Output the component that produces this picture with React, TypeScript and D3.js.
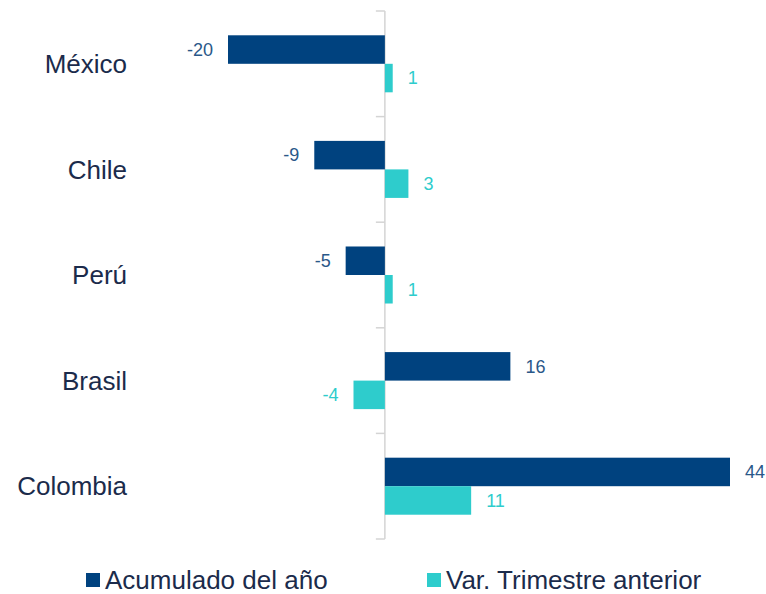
import React from "react";
import * as d3 from "d3";

const categories = ["México", "Chile", "Perú", "Brasil", "Colombia"];
const seriesNames = ["Acumulado del año", "Var. Trimestre anterior"];
const acumulado = [-20, -9, -5, 16, 44];
const trimestre = [1, 3, 1, -4, 11];

const colors = ["#00427f", "#2ecccc"];
const labelColors = ["#2a5889", "#2ecccc"];

export default function App() {
  const W = 766, H = 594;
  const x = d3.scaleLinear().domain([-20, 44]).range([228, 730]);
  const y0 = d3.scaleBand<string>().domain(categories).range([11, 539]).paddingInner(0.46).paddingOuter(0.23);
  const y1 = d3.scaleBand<string>().domain(seriesNames).range([0, y0.bandwidth()]);
  const series = [acumulado, trimestre];
  const step = y0.step();
  const boundaries = d3.range(categories.length + 1).map((i) => 11 + i * step);
  const font = "'Liberation Sans', Arial, sans-serif";

  return (
    <svg width={W} height={H} style={{ position: "absolute", left: 0, top: 0 }} fontFamily={font}>
      <rect width={W} height={H} fill="#ffffff" />
      {/* axis */}
      <line x1={x(0)} x2={x(0)} y1={boundaries[0]} y2={boundaries[boundaries.length - 1]} stroke="#d4d4d4" strokeWidth={1.5} />
      {boundaries.map((b, i) => (
        <line key={i} x1={x(0) - 9} x2={x(0)} y1={b} y2={b} stroke="#d4d4d4" strokeWidth={1.5} />
      ))}
      {categories.map((c, ci) => (
        <g key={c}>
          {series.map((vals, si) => {
            const v = vals[ci];
            const yy = (y0(c) as number) + (y1(seriesNames[si]) as number);
            const h = y1.bandwidth();
            const x0 = Math.min(x(0), x(v));
            const w = Math.abs(x(v) - x(0));
            return (
              <g key={si}>
                <rect x={x0} y={yy} width={w} height={h} fill={colors[si]} />
                <text
                  x={v >= 0 ? x(v) + 15 : x(v) - 15}
                  y={yy + h / 2}
                  dy="0.35em"
                  textAnchor={v >= 0 ? "start" : "end"}
                  fontSize={18}
                  fill={labelColors[si]}
                >
                  {v}
                </text>
              </g>
            );
          })}
          <text
            x={127}
            y={(y0(c) as number) + y0.bandwidth() / 2}
            dy="0.35em"
            textAnchor="end"
            fontSize={26}
            fill="#1b2b4b"
          >
            {c}
          </text>
        </g>
      ))}
      {/* legend */}
      {seriesNames.map((s, i) => {
        const lx = [86, 427][i];
        return (
          <g key={s}>
            <rect x={lx} y={573} width={14} height={14} fill={colors[i]} />
            <text x={lx + 19} y={580} dy="0.35em" fontSize={26} fill="#1b2b4b">
              {s}
            </text>
          </g>
        );
      })}
    </svg>
  );
}
